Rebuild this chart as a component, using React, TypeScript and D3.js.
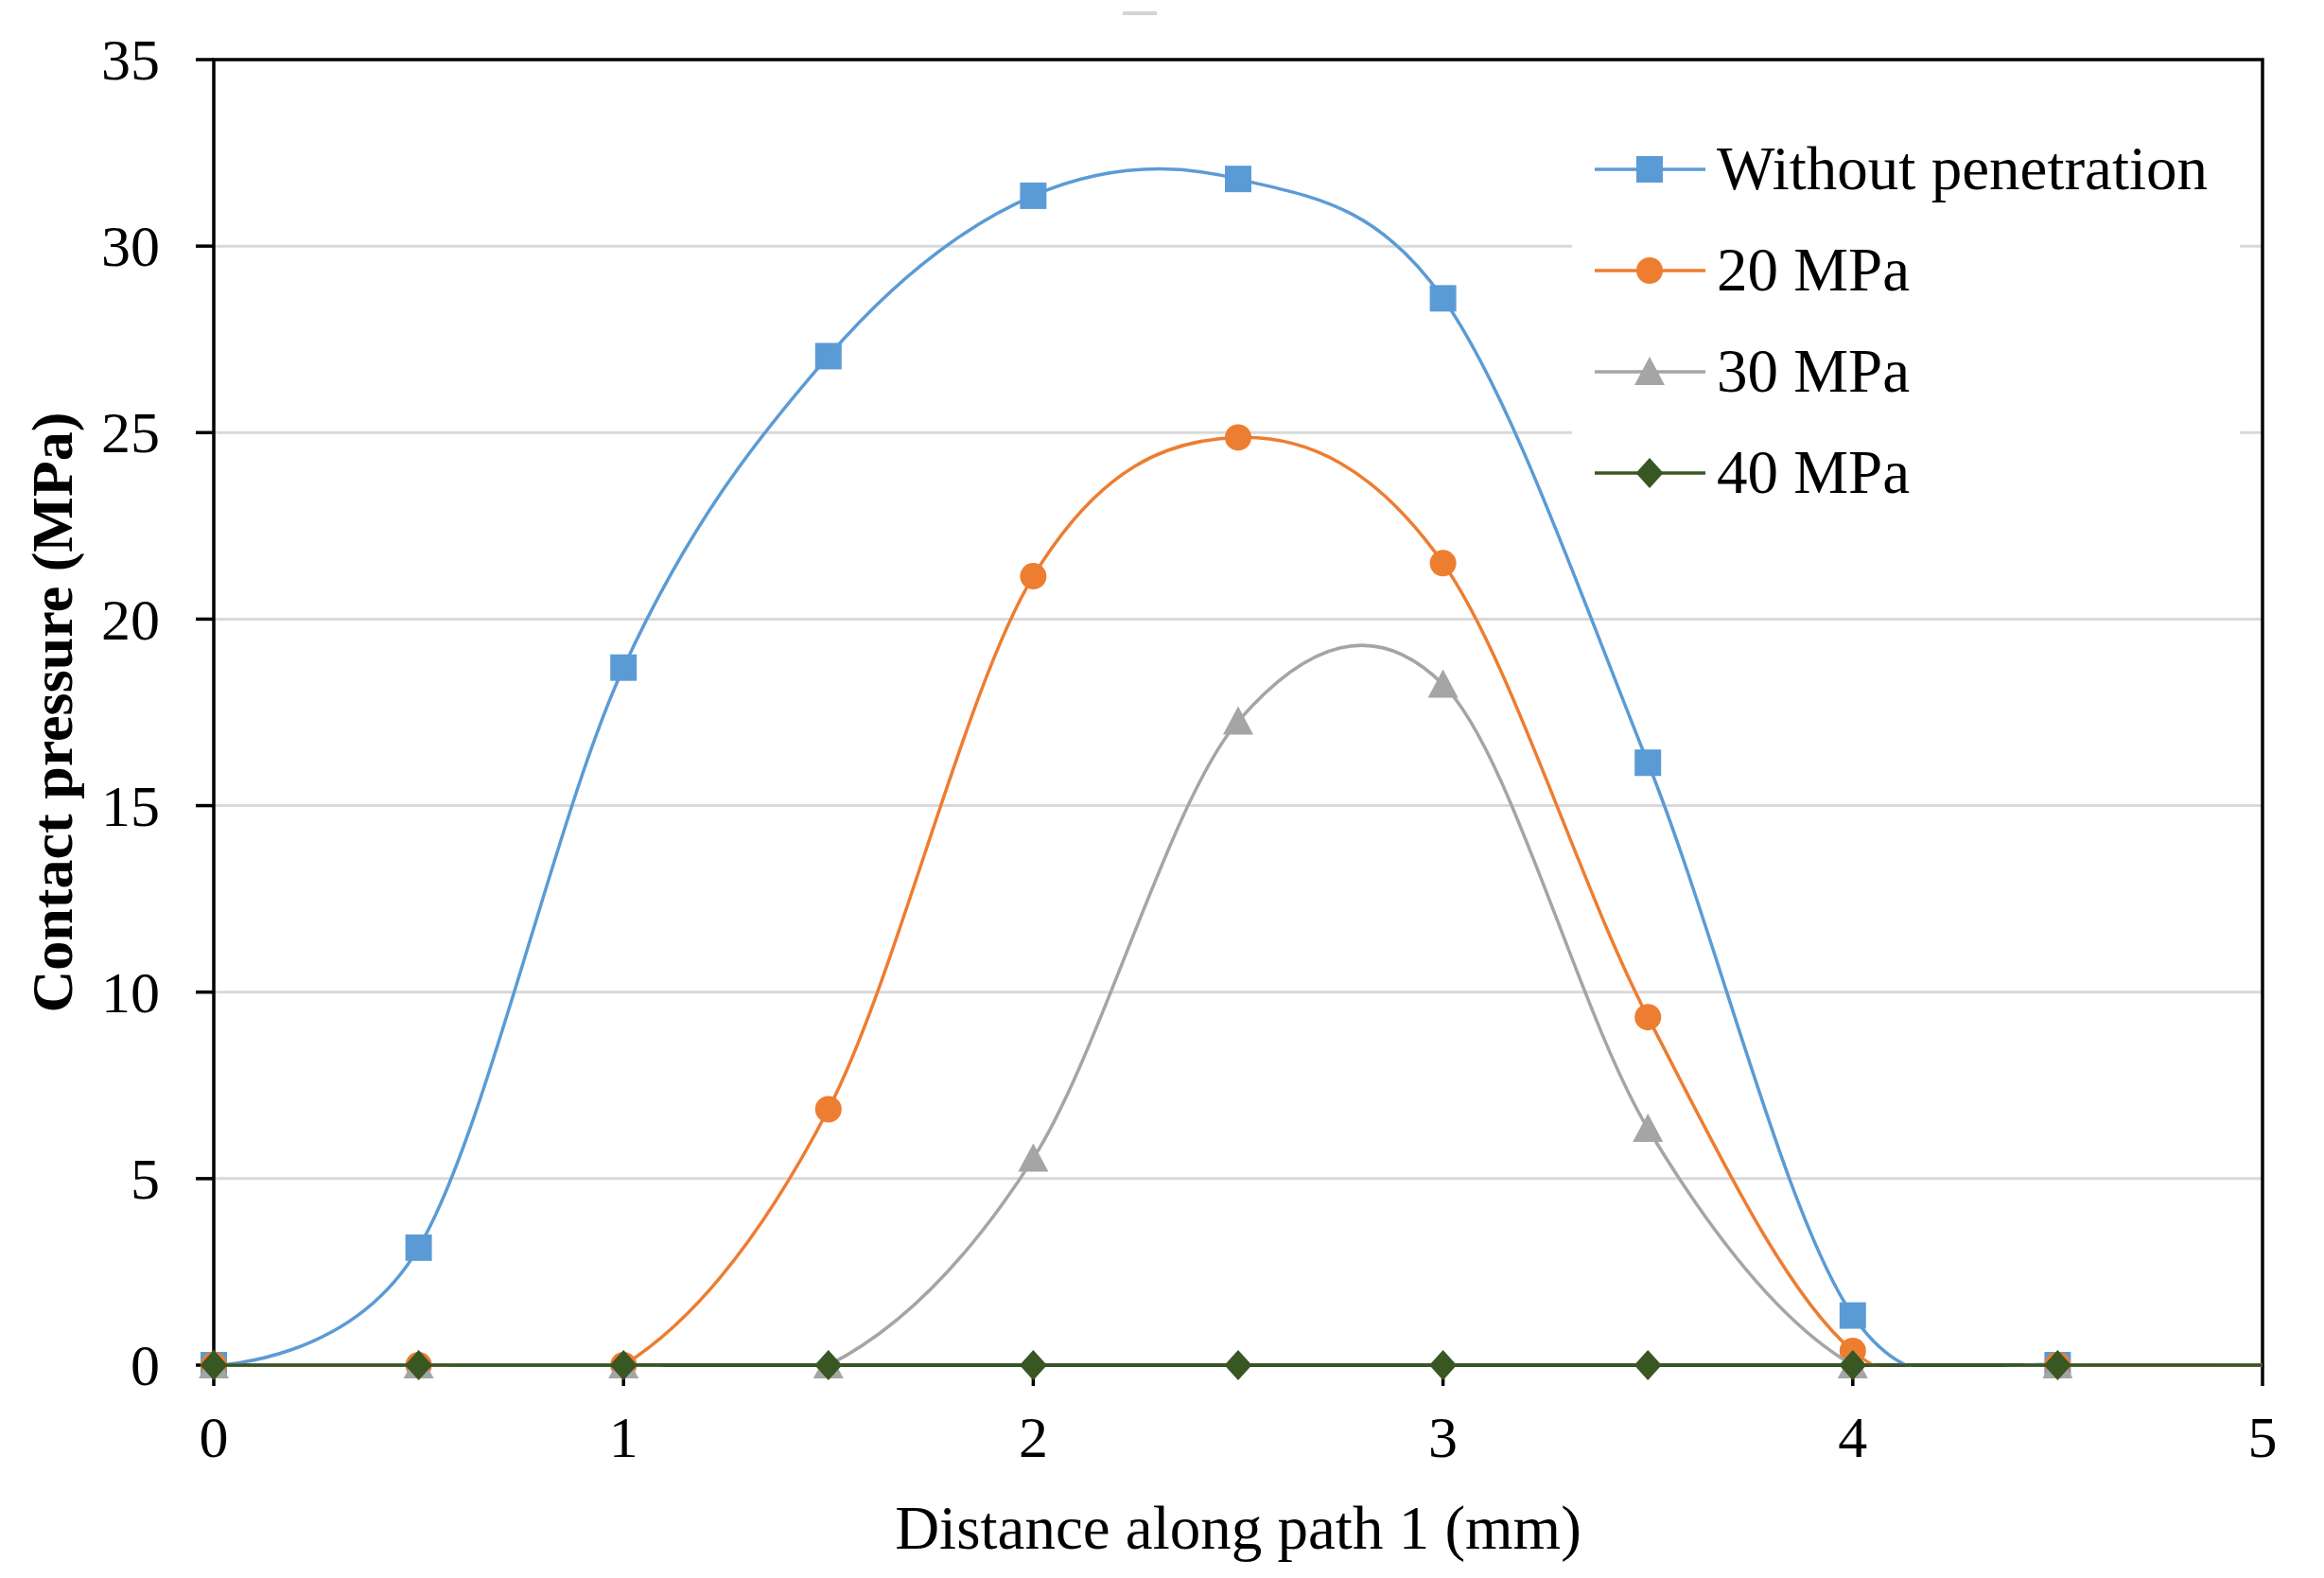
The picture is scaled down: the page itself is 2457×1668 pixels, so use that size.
import React, { useRef, useEffect } from "react";
import * as d3 from "d3";

// distance along path (mm)
const distances = [0, 0.5, 1, 1.5, 2, 2.5, 3, 3.5, 4, 4.5, 5];

// contact pressure (MPa)
const withoutPenetration = [0, 3.15, 18.7, 27.05, 31.35, 31.8, 28.6, 16.15, 1.33, 0, 0];
const mpa20 = [0, 0, 0, 6.86, 21.15, 24.87, 21.5, 9.33, 0.38, 0, 0];
const mpa30 = [0, 0, 0, 0, 5.54, 17.26, 18.25, 6.34, 0, 0, 0];
const mpa40 = [0, 0, 0, 0, 0, 0, 0, 0, 0, 0, 0];

const seriesNames = ["Without penetration", "20 MPa", "30 MPa", "40 MPa"];
const seriesColors = ["#5b9bd5", "#ed7d31", "#a5a5a5", "#385723"];
const seriesMarkers = ["square", "circle", "triangle", "diamond"];

const yTicks = [0, 5, 10, 15, 20, 25, 30, 35];
const xTicks = [0, 1, 2, 3, 4, 5];

const FONT = "'Liberation Serif', 'Times New Roman', serif";

type Pt = { x: number; y: number };

function markerPath(kind: string): string {
  switch (kind) {
    case "square":
      return "M-14,-14H14V14H-14Z";
    case "circle":
      return "M14,0A14,14 0 1,1 -14,0A14,14 0 1,1 14,0Z";
    case "triangle":
      return "M0,-16L16,14L-16,14Z";
    default:
      return "M0,-16L14.5,0L0,16L-14.5,0Z";
  }
}

export default function App() {
  const svgRef = useRef<SVGSVGElement>(null);

  useEffect(() => {
    if (!svgRef.current) return;
    document.body.style.margin = "0";

    const width = 2457;
    const height = 1668;
    const svg = d3.select(svgRef.current);
    svg.selectAll("*").remove();
    svg.attr("width", width).attr("height", height);

    const left = 226;
    const right = 2392;
    const top = 63;
    const bottom = 1443;

    const xScale = d3.scaleLinear().domain([0, 5]).range([left, right]);
    const yScale = d3.scaleLinear().domain([0, 35]).range([bottom, top]);

    svg.append("rect").attr("width", width).attr("height", height).attr("fill", "#fff");

    // smoothed lines are clipped to the plot area (values below 0 disappear)
    svg.append("defs")
      .append("clipPath")
      .attr("id", "plot-clip")
      .append("rect")
      .attr("x", left - 3).attr("y", top - 3)
      .attr("width", right - left + 6).attr("height", bottom - top + 5);

    // little grey dash at the top of the figure
    svg.append("line")
      .attr("x1", 1187).attr("x2", 1223)
      .attr("y1", 14).attr("y2", 14)
      .attr("stroke", "#d4d4d4")
      .attr("stroke-width", 4);

    // gridlines
    svg.append("g")
      .selectAll("line")
      .data(yTicks.filter(t => t > 0 && t < 35))
      .join("line")
      .attr("x1", left).attr("x2", right)
      .attr("y1", d => yScale(d)).attr("y2", d => yScale(d))
      .attr("stroke", "#d9d9d9")
      .attr("stroke-width", 3);

    // legend background hides gridlines behind it
    svg.append("rect")
      .attr("x", 1662).attr("y", 112)
      .attr("width", 706).attr("height", 430)
      .attr("fill", "#fff");

    // frame
    svg.append("rect")
      .attr("x", left).attr("y", top)
      .attr("width", right - left).attr("height", bottom - top)
      .attr("fill", "none")
      .attr("stroke", "#000")
      .attr("stroke-width", 3.5);

    // y ticks + labels
    const yAxis = svg.append("g");
    yAxis.selectAll("line")
      .data(yTicks)
      .join("line")
      .attr("x1", left - 19).attr("x2", left)
      .attr("y1", d => yScale(d)).attr("y2", d => yScale(d))
      .attr("stroke", "#000")
      .attr("stroke-width", 3.5);
    yAxis.selectAll("text")
      .data(yTicks)
      .join("text")
      .attr("x", 169)
      .attr("y", d => yScale(d))
      .attr("dy", "0.34em")
      .attr("text-anchor", "end")
      .style("font-family", FONT)
      .style("font-size", "62px")
      .style("fill", "#000")
      .text(d => String(d));

    // x ticks + labels
    const xAxis = svg.append("g");
    xAxis.selectAll("line")
      .data(xTicks)
      .join("line")
      .attr("x1", d => xScale(d)).attr("x2", d => xScale(d))
      .attr("y1", bottom).attr("y2", bottom + 22)
      .attr("stroke", "#000")
      .attr("stroke-width", 3.5);
    xAxis.selectAll("text")
      .data(xTicks)
      .join("text")
      .attr("x", d => xScale(d))
      .attr("y", 1540)
      .attr("text-anchor", "middle")
      .style("font-family", FONT)
      .style("font-size", "62px")
      .style("fill", "#000")
      .text(d => String(d));

    // axis titles
    svg.append("text")
      .attr("x", (left + right) / 2)
      .attr("y", 1637)
      .attr("text-anchor", "middle")
      .style("font-family", FONT)
      .style("font-size", "65px")
      .style("fill", "#000")
      .text("Distance along path 1 (mm)");

    svg.append("text")
      .attr("transform", `translate(76,${(top + bottom) / 2}) rotate(-90)`)
      .attr("text-anchor", "middle")
      .style("font-family", FONT)
      .style("font-size", "62px")
      .style("font-weight", "bold")
      .style("fill", "#000")
      .text("Contact pressure (MPa)");

    // series: line + markers per series, in order
    const line = d3.line<Pt>()
      .x(d => xScale(d.x))
      .y(d => yScale(d.y))
      .curve(d3.curveCardinal.tension(0));

    const allValues = [withoutPenetration, mpa20, mpa30, mpa40];
    allValues.forEach((values, i) => {
      const pts: Pt[] = distances.map((x, j) => ({ x, y: values[j] }));
      const g = svg.append("g");
      g.append("path")
        .datum(pts)
        .attr("clip-path", "url(#plot-clip)")
        .attr("fill", "none")
        .attr("stroke", seriesColors[i])
        .attr("stroke-width", 3.5)
        .attr("d", line);
      g.selectAll("path.marker")
        .data(pts.filter(p => p.x < 5))
        .join("path")
        .attr("class", "marker")
        .attr("transform", d => `translate(${xScale(d.x)},${yScale(d.y)})`)
        .attr("d", markerPath(seriesMarkers[i]))
        .attr("fill", seriesColors[i]);
    });

    // legend
    const legendRows = [179, 286, 393, 500];
    seriesNames.forEach((name, i) => {
      const row = svg.append("g").attr("transform", `translate(0,${legendRows[i]})`);
      row.append("line")
        .attr("x1", 1686).attr("x2", 1803)
        .attr("y1", 0).attr("y2", 0)
        .attr("stroke", seriesColors[i])
        .attr("stroke-width", 3.5);
      row.append("path")
        .attr("transform", "translate(1744,0)")
        .attr("d", markerPath(seriesMarkers[i]))
        .attr("fill", seriesColors[i]);
      row.append("text")
        .attr("x", 1815)
        .attr("y", 0)
        .attr("dy", "0.33em")
        .style("font-family", FONT)
        .style("font-size", "65px")
        .style("fill", "#000")
        .text(name);
    });
  }, []);

  return <svg ref={svgRef} style={{ display: "block" }} />;
}
